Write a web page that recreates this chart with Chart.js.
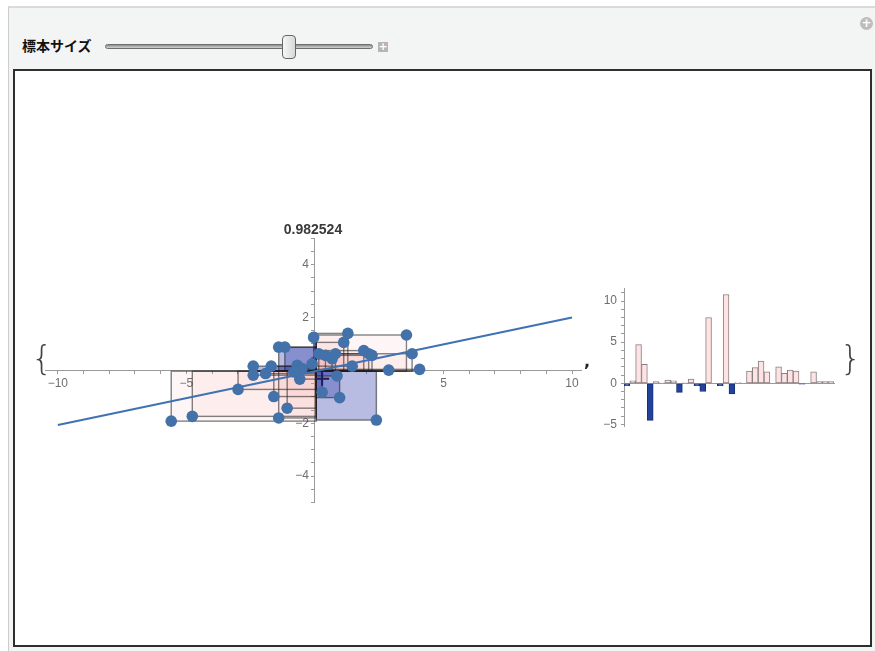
<!DOCTYPE html>
<html><head><meta charset="utf-8">
<script src="https://cdn.jsdelivr.net/npm/chart.js@4.4.1/dist/chart.umd.min.js"></script>
<style>
html,body{margin:0;padding:0;width:875px;height:651px;overflow:hidden;background:#fff;font-family:"Liberation Sans",Arial,sans-serif}
.abs{position:absolute}
</style></head><body>
<div class="abs" style="left:8px;top:6px;width:867px;height:645px;background:#f3f4f4;border-left:1px solid #cdcdcd;border-top:2px solid #dadada"></div>
<div class="abs" style="left:22px;top:35px;font:bold 14px 'Noto Sans CJK JP';color:#111;line-height:20px">標本サイズ</div>
<div class="abs" style="left:105px;top:44px;width:266px;height:3px;border:1px solid #6e6e6e;border-radius:3px;background:linear-gradient(#8e8e8e,#d4d4d4)"></div>
<div class="abs" style="left:282px;top:35px;width:12px;height:22px;border:1px solid #666;border-radius:4px;background:linear-gradient(90deg,#f6f6f6,#d8d8d8)"></div>
<div class="abs" style="left:378px;top:42px;width:10px;height:10px;background:#b5b5b5;color:#fff;font:bold 11px 'DejaVu Sans';line-height:10px;text-align:center">+</div>
<div class="abs" style="left:860px;top:17px;width:13px;height:13px;border-radius:50%;background:#bdbdbd;color:#fff;font:bold 12px 'DejaVu Sans';line-height:13px;text-align:center">+</div>
<div class="abs" style="left:13px;top:69px;width:855px;height:574px;background:#fff;border:2px solid #2e2e2e"></div>
<canvas id="scatter" class="abs" width="875" height="651" style="left:0;top:0"></canvas>
<canvas id="bars" class="abs" width="875" height="651" style="left:0;top:0"></canvas>
<div class="abs" style="left:31px;top:338px;font:300 34px 'DejaVu Sans';color:#444;line-height:40px">{</div>
<div class="abs" style="left:840px;top:338px;font:300 34px 'DejaVu Sans';color:#444;line-height:40px">}</div>
<div class="abs" style="left:584px;top:352px;font:bold 16px 'DejaVu Sans';color:#222;line-height:20px">,</div>
<script>
// ---- data ----
const chartTitle = '0.982524';
const pointX = [-5.59,-4.77,-2.99,-2.40,-2.40,-1.92,-1.70,-1.60,-1.41,-1.17,-1.41,-1.08,-0.69,-0.50,-0.59,-0.82,-0.11,-0.05,0.15,0.41,0.67,0.80,0.86,0.28,0.96,1.12,1.28,1.45,1.90,2.09,2.22,2.39,2.87,3.56,3.78,4.07];
const pointY = [-1.92,-1.74,-0.72,0.16,-0.18,-0.12,0.16,-0.99,0.88,0.88,-1.80,-1.43,0.19,0.07,-0.33,-0.06,0.25,1.25,0.63,0.57,0.44,0.63,-0.21,-0.83,-1.03,1.06,1.40,0.16,0.75,0.63,0.57,-1.88,0.01,1.34,0.63,0.04];
const anchorX = [0.05];
const anchorY = [-0.03];
const markX = [0.28];
const markY = [-0.32];
const fitX = [-10, 10];
const fitY = [-2.07, 2.0];
const barLabels = ['1','2','3','4','5','6','7','8','9','10','11','12','13','14','15','16','17','18','19','20','21','22','23','24','25','26','27','28','29','30','31','32','33','34','35','36'];
const barValues = [-0.3,0.3,4.7,2.3,-4.5,0.2,0.05,0.4,0.3,-1.1,0.02,0.5,-0.3,-1.0,8.0,0.0,-0.3,10.8,-1.3,0.1,0.0,1.5,1.9,2.7,1.4,0.0,2.0,1.2,1.6,1.5,-0.1,0.0,1.4,0.2,0.2,0.2];

const fmt = v => String(v).replace('-', '\u2212');
const tickFont = {family: "'Liberation Sans', Arial, sans-serif", size: 12};
const axisGrey = '#9a9a9a';
const labelGrey = '#6f6f6f';

const rectPlugin = {
  id: 'rects',
  beforeDatasetsDraw(chart) {
    const {ctx, chartArea, scales: {x, y}} = chart;
    const ax = x.getPixelForValue(anchorX[0]);
    const ay = y.getPixelForValue(anchorY[0]);
    ctx.save();
    ctx.beginPath();
    ctx.rect(chartArea.left, chartArea.top, chartArea.width, chartArea.height);
    ctx.clip();
    pointX.forEach((px, i) => {
      const prod = (px - anchorX[0]) * (pointY[i] - anchorY[0]);
      const xp = x.getPixelForValue(px);
      const yp = y.getPixelForValue(pointY[i]);
      ctx.fillStyle = prod >= 0 ? 'rgba(240,150,150,0.085)' : 'rgba(40,52,166,0.33)';
      ctx.fillRect(Math.min(ax, xp), Math.min(ay, yp), Math.abs(xp - ax), Math.abs(yp - ay));
    });
    ctx.strokeStyle = 'rgba(30,30,30,0.55)';
    ctx.lineWidth = 1.4;
    pointX.forEach((px, i) => {
      const xp = x.getPixelForValue(px);
      const yp = y.getPixelForValue(pointY[i]);
      ctx.strokeRect(Math.min(ax, xp), Math.min(ay, yp), Math.abs(xp - ax), Math.abs(yp - ay));
    });
    ctx.restore();
  }
};

new Chart(document.getElementById('scatter'), {
  type: 'scatter',
  data: {
    datasets: [
      {type: 'line', data: fitX.map((v, i) => ({x: v, y: fitY[i]})), borderColor: '#3f72b3', borderWidth: 2, pointRadius: 0, order: 2},
      {data: pointX.map((v, i) => ({x: v, y: pointY[i]})), backgroundColor: '#4371aa', borderWidth: 0, pointRadius: 5.8, order: 1},
      {data: markX.map((v, i) => ({x: v, y: markY[i]})), pointStyle: 'cross', pointRadius: 7, borderColor: '#1c1f5c', borderWidth: 2, order: 0}
    ]
  },
  options: {
    responsive: false, animation: false, events: [],
    layout: {padding: {left: 45, right: 294, top: 221.5, bottom: 148.5}},
    plugins: {
      legend: {display: false}, tooltip: {enabled: false},
      title: {display: true, text: chartTitle, color: '#3a3a3a', font: {family: "'Liberation Sans', Arial, sans-serif", size: 14, weight: 'bold'}, padding: {top: 0, bottom: 0}}
    },
    scales: {
      x: {
        type: 'linear', min: -10.5, max: 10.35, position: {y: 0},
        border: {display: true, color: axisGrey, width: 1},
        grid: {drawOnChartArea: false, drawTicks: true, tickLength: 3, color: axisGrey},
        ticks: {stepSize: 1, autoSkip: false, maxRotation: 0, includeBounds: false, padding: 3, color: labelGrey, font: tickFont,
          callback: v => (v % 5 === 0 && v !== 0) ? fmt(v) : ''}
      },
      y: {
        type: 'linear', min: -5, max: 5, position: {x: 0},
        border: {display: true, color: axisGrey, width: 1},
        grid: {drawOnChartArea: false, drawTicks: true, tickLength: 3, color: axisGrey},
        ticks: {stepSize: 0.5, autoSkip: false, includeBounds: false, padding: 4, color: labelGrey, font: tickFont,
          callback: v => (v % 2 === 0 && v !== 0) ? fmt(v) + '\u2002' : ''}
      }
    }
  },
  plugins: [rectPlugin]
});

new Chart(document.getElementById('bars'), {
  type: 'bar',
  data: {
    labels: barLabels,
    datasets: [{
      data: barValues,
      backgroundColor: barValues.map(v => v >= 0 ? '#fde3e4' : '#22439c'),
      borderColor: barValues.map(v => v >= 0 ? '#8a7f80' : '#1a2f72'),
      borderWidth: 1, barPercentage: 1, categoryPercentage: 1, borderSkipped: false
    }]
  },
  options: {
    responsive: false, animation: false, events: [],
    layout: {padding: {left: 594, right: 41, top: 288.7, bottom: 224.9}},
    plugins: {legend: {display: false}, tooltip: {enabled: false}},
    scales: {
      x: {
        position: {y: 0},
        border: {display: true, color: axisGrey, width: 1},
        grid: {display: false},
        ticks: {display: false}
      },
      y: {
        min: -5.2, max: 11.5,
        afterFit: s => { s.width = 30; },
        border: {display: true, color: axisGrey, width: 1},
        grid: {drawOnChartArea: false, drawTicks: true, tickLength: 3, color: axisGrey},
        ticks: {stepSize: 1, autoSkip: false, includeBounds: false, padding: 4, color: labelGrey, font: tickFont,
          callback: v => (v % 5 === 0) ? fmt(v) : ''}
      }
    }
  }
});
</script>
</body></html>
